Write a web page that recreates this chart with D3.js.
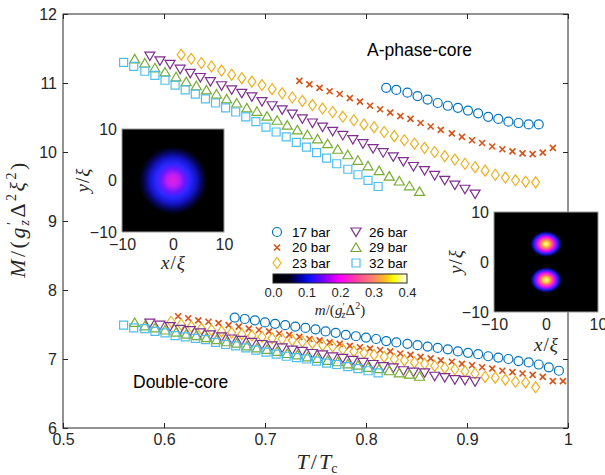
<!DOCTYPE html>
<html>
<head>
<meta charset="utf-8">
<script src="https://cdn.jsdelivr.net/npm/d3@7"></script>
<style>
  body { margin: 0; background: #fff; }
  svg { display: block; font-family: "Liberation Sans", Arial, sans-serif; }
  .tex { font-family: "Liberation Serif", "DejaVu Serif", serif; }
</style>
</head>
<body>
<svg id="chart" width="605" height="475"></svg>
<script>
// ---- data (T/Tc, M) ----
const T17u = [.820,.830,.841,.851,.861,.871,.881,.891,.901,.911,.921,.931,.941,.951,.961,.971];
const M17u = [10.93,10.90,10.86,10.81,10.76,10.71,10.67,10.64,10.60,10.56,10.51,10.48,10.44,10.42,10.40,10.40];
const T17d = [.670,.680,.690,.700,.710,.720,.730,.740,.750,.760,.770,.780,.790,.800,.810,.820,.830,.841,.851,.861,.871,.881,.891,.901,.911,.921,.931,.941,.951,.961,.971,.981,.991];
const M17d = [7.60,7.58,7.56,7.53,7.51,7.49,7.47,7.45,7.43,7.40,7.38,7.35,7.33,7.31,7.29,7.26,7.24,7.22,7.20,7.18,7.16,7.14,7.11,7.09,7.07,7.04,7.02,7.00,6.97,6.95,6.92,6.88,6.83];

const T20u = [.734,.744,.754,.764,.774,.784,.794,.804,.814,.824,.834,.844,.854,.864,.874,.885,.895,.905,.915,.925,.935,.945,.955,.965,.975,.985];
const M20u = [11.03,10.98,10.93,10.88,10.84,10.78,10.73,10.67,10.62,10.57,10.52,10.48,10.42,10.37,10.32,10.27,10.22,10.17,10.13,10.08,10.04,10.01,9.98,9.97,9.99,10.06];
const T20d = [.614,.624,.634,.644,.654,.664,.674,.684,.694,.704,.714,.724,.734,.744,.754,.764,.774,.784,.794,.804,.814,.824,.834,.844,.854,.864,.874,.885,.895,.905,.915,.925,.935,.945,.955,.965,.975,.985,.995];
const M20d = [7.62,7.59,7.56,7.54,7.52,7.49,7.47,7.44,7.42,7.40,7.37,7.35,7.32,7.29,7.27,7.24,7.22,7.19,7.17,7.15,7.13,7.11,7.08,7.06,7.03,7.01,6.98,6.96,6.93,6.91,6.88,6.86,6.83,6.81,6.79,6.77,6.74,6.68,6.68];

const T23u = [.617,.627,.637,.647,.657,.667,.677,.687,.697,.707,.717,.727,.737,.747,.757,.767,.777,.788,.798,.808,.818,.828,.838,.848,.858,.868,.878,.888,.898,.908,.918,.928,.938,.948,.958,.968];
const M23u = [11.41,11.35,11.29,11.24,11.18,11.12,11.07,11.02,10.97,10.91,10.85,10.79,10.74,10.68,10.63,10.58,10.51,10.46,10.40,10.36,10.29,10.23,10.17,10.12,10.06,10.00,9.94,9.89,9.83,9.78,9.73,9.67,9.63,9.59,9.57,9.56];
const T23d = [.607,.617,.627,.637,.647,.657,.667,.677,.687,.697,.707,.717,.727,.737,.747,.757,.767,.777,.788,.798,.808,.818,.828,.838,.848,.858,.868,.878,.888,.898,.908,.918,.928,.938,.948,.958,.968];
const M23d = [7.54,7.50,7.47,7.44,7.42,7.40,7.38,7.36,7.34,7.32,7.30,7.29,7.27,7.25,7.23,7.20,7.18,7.14,7.11,7.09,7.06,7.03,7.00,6.98,6.95,6.93,6.90,6.87,6.85,6.82,6.79,6.74,6.73,6.70,6.67,6.66,6.59];

const T26 = [.586,.596,.606,.616,.626,.636,.646,.657,.667,.677,.687,.697,.707,.717,.727,.737,.747,.757,.767,.777,.787,.797,.807,.817,.827,.837,.847,.858,.868,.878,.888,.898,.908];
const M26u = [11.39,11.32,11.27,11.20,11.14,11.08,11.02,10.96,10.90,10.85,10.80,10.73,10.67,10.61,10.55,10.48,10.42,10.36,10.30,10.24,10.18,10.12,10.05,9.99,9.93,9.86,9.79,9.73,9.66,9.59,9.52,9.46,9.39];
const M26d = [7.52,7.49,7.47,7.43,7.41,7.38,7.35,7.32,7.29,7.27,7.24,7.21,7.19,7.16,7.13,7.11,7.08,7.06,7.03,7.01,6.98,6.95,6.92,6.89,6.87,6.83,6.81,6.80,6.75,6.73,6.70,6.69,6.67];

const T29 = [.571,.581,.591,.601,.612,.622,.632,.642,.652,.662,.672,.682,.692,.702,.712,.722,.732,.742,.752,.762,.772,.782,.792,.802,.813,.823,.833,.843,.853];
const M29u = [11.35,11.29,11.22,11.16,11.09,11.02,10.96,10.90,10.84,10.77,10.71,10.64,10.59,10.52,10.46,10.39,10.32,10.25,10.19,10.12,10.04,9.96,9.88,9.80,9.73,9.65,9.58,9.51,9.43];
const M29d = [7.53,7.48,7.45,7.42,7.39,7.36,7.34,7.31,7.28,7.25,7.23,7.19,7.16,7.14,7.11,7.08,7.06,7.03,7.01,6.98,6.96,6.93,6.91,6.88,6.86,6.83,6.80,6.78,6.75];

const T32 = [.560,.570,.581,.591,.601,.611,.621,.631,.641,.651,.661,.671,.681,.691,.701,.711,.721,.731,.741,.751,.761,.771,.782,.792,.802,.812];
const M32u = [11.30,11.24,11.17,11.11,11.04,10.97,10.90,10.84,10.77,10.71,10.64,10.58,10.51,10.44,10.36,10.29,10.22,10.14,10.07,9.99,9.91,9.83,9.75,9.67,9.59,9.50];
const M32d = [7.49,7.45,7.44,7.40,7.38,7.34,7.32,7.30,7.28,7.24,7.21,7.19,7.16,7.13,7.10,7.07,7.04,7.02,7.00,6.97,6.94,6.92,6.89,6.86,6.83,6.80];

const seriesNames = ["17 bar","20 bar","23 bar","26 bar","29 bar","32 bar"];
const seriesColors = ["#0072BD","#D95319","#EDB120","#7E2F8E","#77AC30","#4DBEEE"];
const seriesMarkers = ["circle","cross","diamond","tridown","triup","square"];

const xTicks = [0.5,0.6,0.7,0.8,0.9,1];
const xTickLabels = ["0.5","0.6","0.7","0.8","0.9","1"];
const yTicks = [6,7,8,9,10,11,12];
const cbTicks = [0,0.1,0.2,0.3,0.4];
const cbTickLabels = ["0.0","0.1","0.2","0.3","0.4"];
const insetTicks = [-10,0,10];

// table for drawing
const series = [
  {up:[T17u,M17u], dn:[T17d,M17d]},
  {up:[T20u,M20u], dn:[T20d,M20d]},
  {up:[T23u,M23u], dn:[T23d,M23d]},
  {up:[T26,M26u],  dn:[T26,M26d]},
  {up:[T29,M29u],  dn:[T29,M29d]},
  {up:[T32,M32u],  dn:[T32,M32d]}
].map((s,i)=>({...s, name:seriesNames[i], color:seriesColors[i], marker:seriesMarkers[i]}));

const svg = d3.select("#chart");
const L=63, R=568, TOP=14, B=428;
const x = d3.scaleLinear().domain([0.5,1]).range([L,R]);
const y = d3.scaleLinear().domain([6,12]).range([B,TOP]);
const axisCol = "#262626";

// marker shapes (bbox-centred)
const markerPath = {
  circle: "M4.5,0A4.5,4.5 0 1 1 -4.5,0A4.5,4.5 0 1 1 4.5,0Z",
  cross: "M-3,-3L3,3M-3,3L3,-3",
  diamond: "M0,-5.5L4,0L0,5.5L-4,0Z",
  tridown: "M-5,-4L5,-4L0,4.5Z",
  triup: "M0,-4.5L5,4L-5,4Z",
  square: "M-4,-4H4V4H-4Z"
};

// axes
function styleAxis(g){
  g.selectAll("path.domain").remove();
  g.selectAll("line").attr("stroke",axisCol);
  g.selectAll("text").attr("fill",axisCol).style("font-size","16px").style("font-family","'Liberation Sans', Arial, sans-serif");
}
svg.append("g").attr("transform",`translate(0,${B})`)
  .call(d3.axisBottom(x).tickValues(xTicks).tickFormat((d,i)=>xTickLabels[i]).tickSizeInner(-5).tickSizeOuter(0).tickPadding(6))
  .call(styleAxis);
svg.append("g").attr("transform",`translate(0,${TOP})`)
  .call(d3.axisTop(x).tickValues(xTicks).tickFormat("").tickSizeInner(-5).tickSizeOuter(0))
  .call(styleAxis);
svg.append("g").attr("transform",`translate(${L},0)`)
  .call(d3.axisLeft(y).tickValues(yTicks).tickFormat(d3.format("d")).tickSizeInner(-5).tickSizeOuter(0).tickPadding(6))
  .call(styleAxis);
svg.append("g").attr("transform",`translate(${R},0)`)
  .call(d3.axisRight(y).tickValues(yTicks).tickFormat("").tickSizeInner(-5).tickSizeOuter(0))
  .call(styleAxis);
svg.append("rect").attr("x",L).attr("y",TOP).attr("width",R-L).attr("height",B-TOP)
  .attr("fill","none").attr("stroke",axisCol).attr("stroke-width",1);

// data markers
const plot = svg.append("g");
series.forEach(s=>{
  ["up","dn"].forEach(k=>{
    const [ts,ms] = s[k];
    plot.append("g").selectAll("path").data(ts.map((t,i)=>[t,ms[i]])).join("path")
      .attr("transform",d=>`translate(${x(d[0])},${y(d[1])})`)
      .attr("d",markerPath[s.marker])
      .attr("fill","none").attr("stroke",s.color)
      .attr("stroke-width", s.marker==="cross"?1.6:1.2);
  });
});

// annotations
svg.append("text").attr("x",367).attr("y",56).style("font-size","17.5px").attr("fill","#000").text("A-phase-core");
svg.append("text").attr("x",133).attr("y",388).style("font-size","17.5px").attr("fill","#000").text("Double-core");

// axis labels
const xl = svg.append("text").attr("class","tex").attr("x",317).attr("y",469).attr("text-anchor","middle").style("font-size","22px").attr("fill",axisCol);
xl.append("tspan").attr("font-style","italic").text("T");
xl.append("tspan").attr("dx",2).text("/");
xl.append("tspan").attr("dx",2).attr("font-style","italic").text("T");
xl.append("tspan").attr("font-size","14px").attr("dy",4).text("c");

const yl = svg.append("text").attr("class","tex").attr("transform","translate(25,219) rotate(-90)").attr("text-anchor","middle").style("font-size","22px").style("letter-spacing","2.5px").attr("fill",axisCol);
yl.append("tspan").attr("font-style","italic").text("M");
yl.append("tspan").text("/(");
yl.append("tspan").attr("font-style","italic").text("g");
yl.append("tspan").attr("font-size","14px").attr("dy",-8).text("′");
yl.append("tspan").attr("font-style","italic").attr("font-size","14px").attr("dx",-6).attr("dy",12).text("z");
yl.append("tspan").attr("dy",-4).text("Δ");
yl.append("tspan").attr("font-size","14px").attr("dy",-9).text("2");
yl.append("tspan").attr("font-style","italic").attr("dy",9).text("ξ");
yl.append("tspan").attr("font-size","14px").attr("dy",-9).text("2");
yl.append("tspan").attr("dy",9).text(")");

// legend
const leg = svg.append("g");
const legX = [[277,292],[356,369]], legY = [232,247.5,263];
series.forEach((s,i)=>{
  const col = Math.floor(i/3), row = i%3;
  leg.append("path").attr("transform",`translate(${legX[col][0]},${legY[row]})`)
    .attr("d",markerPath[s.marker]).attr("fill","none").attr("stroke",s.color)
    .attr("stroke-width", s.marker==="cross"?1.6:1.2);
  leg.append("text").attr("x",legX[col][1]).attr("y",legY[row]+4.5).style("font-size","13.5px").attr("fill","#000").text(s.name);
});

// colormap
const defs = svg.append("defs");
const cmapStops = [[0,"#000000"],[0.12,"#000018"],[0.22,"#0000c0"],[0.28,"#1010ff"],[0.38,"#8000ff"],[0.5,"#ff00ff"],[0.62,"#ff40a0"],[0.74,"#ff8070"],[0.84,"#ffc020"],[0.9,"#ffff00"],[1,"#ffffff"]];
const lg = defs.append("linearGradient").attr("id","cmap").attr("x1",0).attr("x2",1).attr("y1",0).attr("y2",0);
cmapStops.forEach(s=>lg.append("stop").attr("offset",s[0]).attr("stop-color",s[1]));

const cb = d3.scaleLinear().domain([0,0.4]).range([273,407]);
svg.append("rect").attr("x",273).attr("y",274).attr("width",134).attr("height",9)
  .attr("fill","url(#cmap)").attr("stroke",axisCol).attr("stroke-width",1);
svg.append("g").attr("transform","translate(0,283)")
  .call(d3.axisBottom(cb).tickValues(cbTicks).tickFormat((d,i)=>cbTickLabels[i]).tickSize(0).tickPadding(5))
  .call(g=>{g.selectAll("path.domain").remove(); g.selectAll("text").attr("fill",axisCol).style("font-size","13px");});
const cl = svg.append("text").attr("class","tex").attr("x",340).attr("y",315).attr("text-anchor","middle").style("font-size","15px").attr("fill",axisCol);
cl.append("tspan").attr("font-style","italic").text("m");
cl.append("tspan").text("/(");
cl.append("tspan").attr("font-style","italic").text("g");
cl.append("tspan").attr("font-size","10px").attr("dy",-5).text("′");
cl.append("tspan").attr("font-style","italic").attr("font-size","10px").attr("dx",-3).attr("dy",8).text("z");
cl.append("tspan").attr("dy",-3).text("Δ");
cl.append("tspan").attr("font-size","10px").attr("dy",-6).text("2");
cl.append("tspan").attr("dy",6).text(")");

// insets
const rg1 = defs.append("radialGradient").attr("id","blob1");
[[0,"#e020e0"],[0.18,"#c01cf0"],[0.34,"#6a18ff"],[0.5,"#2a28ff"],[0.68,"#1414c8"],[0.84,"#06065a"],[1,"#000000"]]
  .forEach(s=>rg1.append("stop").attr("offset",s[0]).attr("stop-color",s[1]));
const rg2 = defs.append("radialGradient").attr("id","blob2");
[[0,"#ffffa0"],[0.15,"#ffe040"],[0.32,"#ff8060"],[0.48,"#ff20d0"],[0.62,"#a010ff"],[0.76,"#2020f0"],[0.9,"#050560"],[1,"#000000"]]
  .forEach(s=>rg2.append("stop").attr("offset",s[0]).attr("stop-color",s[1]));

function inset(x0,x1,y0,y1,blobs,grad,rx,ry,ylabX,xlabY){
  const ix = d3.scaleLinear().domain([-10,10]).range([x0,x1]);
  const iy = d3.scaleLinear().domain([-10,10]).range([y1,y0]);
  const g = svg.append("g");
  g.append("rect").attr("x",x0).attr("y",y0).attr("width",x1-x0).attr("height",y1-y0).attr("fill","#000");
  blobs.forEach(b=>g.append("ellipse").attr("cx",ix(b[0])).attr("cy",iy(b[1])).attr("rx",rx).attr("ry",ry).attr("fill",`url(#${grad})`));
  g.append("rect").attr("x",x0).attr("y",y0).attr("width",x1-x0).attr("height",y1-y0).attr("fill","none").attr("stroke","#9a9a9a");
  g.append("g").attr("transform",`translate(0,${y1})`)
    .call(d3.axisBottom(ix).tickValues(insetTicks).tickFormat(d3.format("d")).tickSize(0).tickPadding(7))
    .call(a=>{a.selectAll("path.domain").remove(); a.selectAll("text").attr("fill",axisCol).style("font-size","16px");});
  g.append("g").attr("transform",`translate(${x0},0)`)
    .call(d3.axisLeft(iy).tickValues(insetTicks).tickFormat(d3.format("d")).tickSize(0).tickPadding(5))
    .call(a=>{a.selectAll("path.domain").remove(); a.selectAll("text").attr("fill",axisCol).style("font-size","16px");});
  const xt = g.append("text").attr("class","tex").attr("x",(x0+x1)/2).attr("y",xlabY).attr("text-anchor","middle").style("font-size","19px").attr("fill",axisCol);
  xt.append("tspan").attr("font-style","italic").text("x");
  xt.append("tspan").attr("dx",1).text("/");
  xt.append("tspan").attr("dx",1).attr("font-style","italic").text("ξ");
  const yt = g.append("text").attr("class","tex").attr("transform",`translate(${ylabX},${(y0+y1)/2}) rotate(-90)`).attr("text-anchor","middle").style("font-size","19px").attr("fill",axisCol);
  yt.append("tspan").attr("font-style","italic").text("y");
  yt.append("tspan").attr("dx",1).text("/");
  yt.append("tspan").attr("dx",1).attr("font-style","italic").text("ξ");
}
inset(122,224,129,232,[[0,0]],"blob1",34,34,89,269);
inset(494,598,212,312,[[0,3.6],[0,-3.6]],"blob2",16,13,462,351);
</script>
</body>
</html>
